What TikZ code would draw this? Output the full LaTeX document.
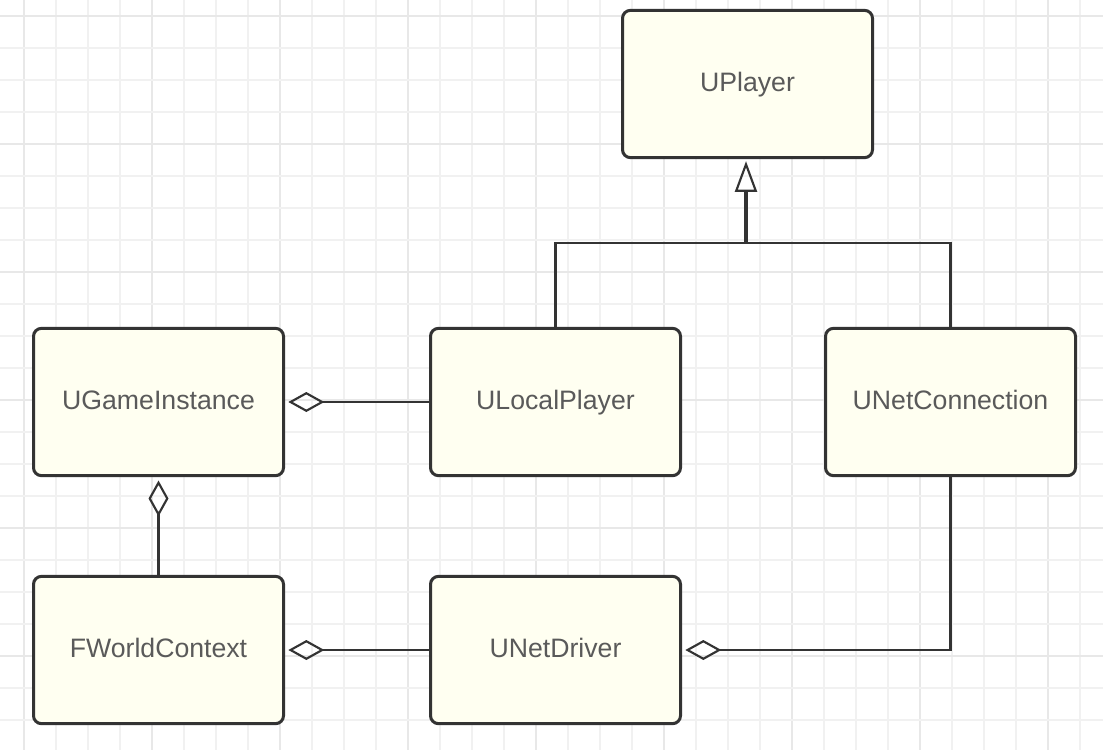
\documentclass[tikz,border=0pt]{standalone}
\usepackage{fontspec}
\setmainfont{Liberation Sans}
\usetikzlibrary{arrows.meta}
\definecolor{boxfill}{HTML}{FFFFF1}
\definecolor{boxline}{HTML}{333333}
\definecolor{txt}{HTML}{5A5A5A}
\definecolor{gridminor}{HTML}{F1F1F1}
\definecolor{gridmajor}{HTML}{E8E8E8}
\tikzset{
  classbox/.style={draw=boxline, fill=boxfill, line width=2.25pt, rounded corners=6pt,
    minimum width=187.5pt, minimum height=110.5pt, inner sep=0pt,
    text height=14.5pt, text depth=4pt,
    text=txt, font=\fontsize{20}{24}\selectfont},
  conn/.style={draw=boxline, line width=2.2pt},
  aggr/.style={conn, -{Diamond[open, length=27pt, width=15pt, line width=1.6pt]}, shorten >=2.5pt},
  inherit/.style={draw=boxline, line width=3pt, -{Triangle[open, length=23pt, width=16.5pt, line width=1.6pt]}, shorten >=1.5pt}
}
\begin{document}
\begin{tikzpicture}[x=0.75pt, y=-0.75pt]
\useasboundingbox (0,0) rectangle (1103,750);
\fill[white] (0,0) rectangle (1103,750);
% grid
\foreach \i in {0,...,34} {
  \pgfmathtruncatemacro{\m}{mod(\i,4)}
  \ifnum\m=0
    \draw[gridmajor, line width=1.2pt] ({24+32*\i},0) -- ({24+32*\i},750);
  \else
    \draw[gridminor, line width=1.2pt] ({24+32*\i},0) -- ({24+32*\i},750);
  \fi
}
\foreach \j in {0,...,23} {
  \pgfmathtruncatemacro{\m}{mod(\j,4)}
  \ifnum\m=0
    \draw[gridmajor, line width=1.2pt] (0,{16+32*\j}) -- (1103,{16+32*\j});
  \else
    \draw[gridminor, line width=1.2pt] (0,{16+32*\j}) -- (1103,{16+32*\j});
  \fi
}
% classes
\node[classbox] (UPlayer) at (747.5,84) {UPlayer};
\node[classbox] (UGameInstance) at (158.5,402) {UGameInstance};
\node[classbox] (ULocalPlayer) at (555.5,402) {ULocalPlayer};
\node[classbox] (UNetConnection) at (950.5,402) {UNetConnection};
\node[classbox] (FWorldContext) at (158.5,650) {FWorldContext};
\node[classbox] (UNetDriver) at (555.5,650) {UNetDriver};
% inheritance
\coordinate (join) at (746,243);
\draw[conn] (ULocalPlayer.north) |- (join) -| (UNetConnection.north);
\draw[inherit] (join) -- (join |- UPlayer.south);
% aggregations
\draw[aggr] (ULocalPlayer.west) -- (UGameInstance.east);
\draw[aggr] (FWorldContext.north) -- (UGameInstance.south);
\draw[aggr] (UNetDriver.west) -- (FWorldContext.east);
\draw[aggr] (UNetConnection.south) |- (UNetDriver.east);
\end{tikzpicture}
\end{document}
